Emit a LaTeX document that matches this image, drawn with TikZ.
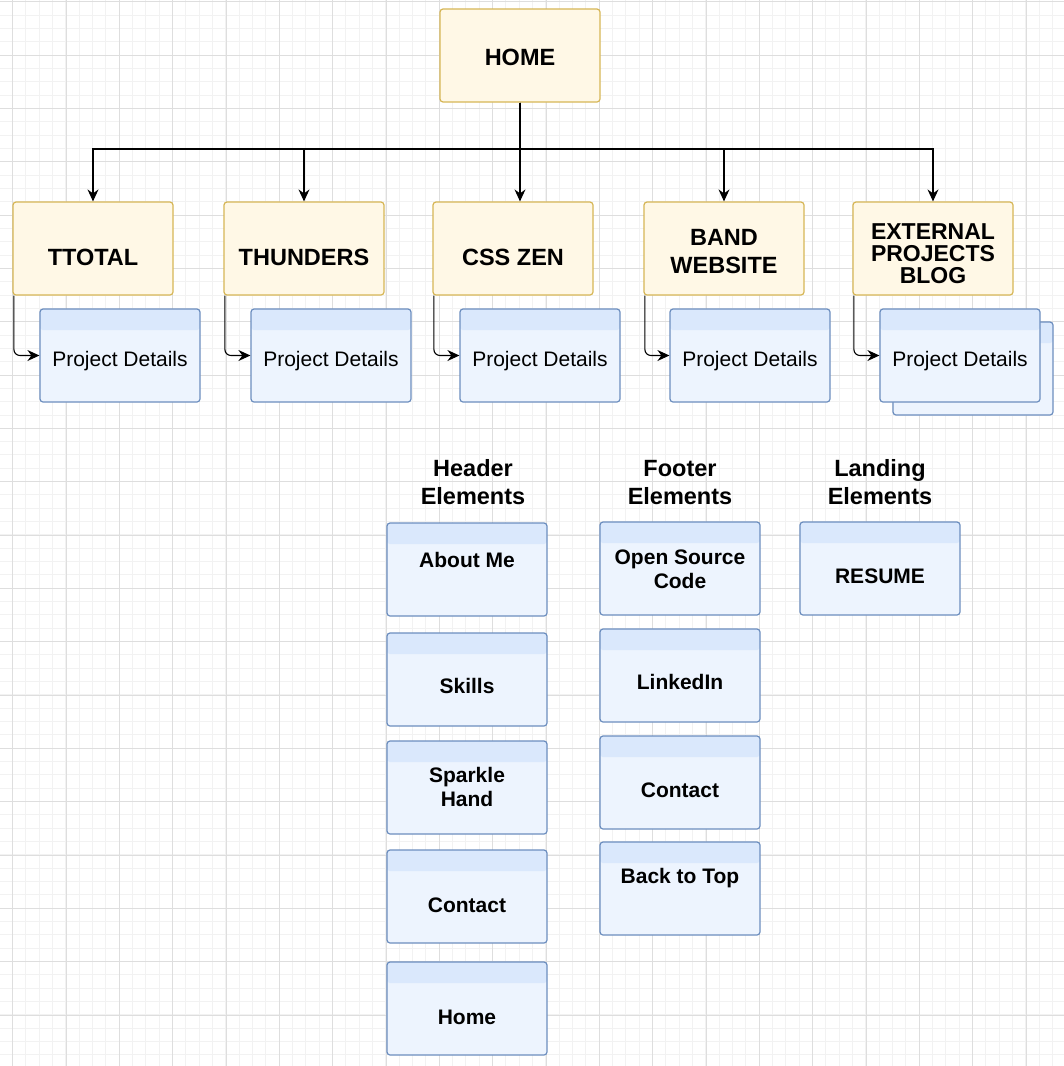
\documentclass[tikz,border=0pt]{standalone}
\usepackage{fontspec}
\setmainfont{Liberation Sans}
\usetikzlibrary{arrows.meta}
\definecolor{ybar}{HTML}{FFF2CC}
\definecolor{ybody}{HTML}{FFF8E6}
\definecolor{ydraw}{HTML}{D6B656}
\definecolor{bbar}{HTML}{DAE8FC}
\definecolor{bbody}{HTML}{EDF4FE}
\definecolor{bdraw}{HTML}{6C8EBF}
\definecolor{gmaj}{HTML}{DEDEDE}
\definecolor{gmin}{HTML}{F2F2F2}
\tikzset{
  lane/.style={rectangle, rounded corners=3pt, minimum width=160pt, minimum height=93pt, inner sep=0pt, line width=1.2pt},
  ylane/.style={lane, draw=ydraw, fill=ybody, path picture={\fill[ybar] (path picture bounding box.north west) rectangle ([yshift=-21pt]path picture bounding box.north east);}},
  blane/.style={lane, draw=bdraw, fill=bbody, path picture={\fill[bbar] (path picture bounding box.north west) rectangle ([yshift=-21pt]path picture bounding box.north east);}},
  bigtxt/.style={font=\fontsize{23.5}{28}\selectfont\bfseries, align=center, inner sep=0pt},
  tighttxt/.style={font=\fontsize{23}{21.7}\selectfont\bfseries, align=center, inner sep=0pt},
  subtxt/.style={font=\fontsize{21}{24}\selectfont\bfseries, align=center, inner sep=0pt},
  pdtxt/.style={font=\fontsize{21}{24}\selectfont, align=center, inner sep=0pt},
  arr/.style={draw=black, line width=1.3pt, -{Stealth[length=12pt, width=11pt, inset=4pt]}},
  sarr/.style={draw=black, line width=1.1pt, rounded corners=6pt, -{Stealth[length=12pt, width=11pt, inset=4pt]}},
}
\begin{document}
\begin{tikzpicture}[x=1pt, y=-1pt]
\useasboundingbox (0,0) rectangle (1064,1066);
\fill[white] (0,0) rectangle (1064,1066);
% grid
\foreach \i in {0,...,80} {
  \draw[gmin, line width=1pt] ({-0.67+13.333*\i},0) -- ++(0,1066);
  \draw[gmin, line width=1pt] (0,{1.67+13.333*\i}) -- ++(1064,0);
}
\foreach \i in {0,...,20} {
  \draw[gmaj, line width=1pt] ({12.67+53.333*\i},0) -- ++(0,1066);
  \draw[gmaj, line width=1pt] (0,{1.67+53.333*\i}) -- ++(1064,0);
}
% top
\node[ylane] (home) at (520,55.5) {};
\node[bigtxt] (thome) at (520,57) {HOME};
\node[ylane] (ttotal) at (93,248.5) {};
\node[ylane] (thunders) at (304,248.5) {};
\node[ylane] (csszen) at (513,248.5) {};
\node[ylane] (band) at (724,248.5) {};
\node[ylane] (ext) at (933,248.5) {};
\node[bigtxt] (tttotal) at (93,257.3) {TTOTAL};
\node[bigtxt] (tthunders) at (304,257.3) {THUNDERS};
\node[bigtxt] (tcsszen) at (513,257.3) {CSS ZEN};
\node[bigtxt] (tband) at (724,252) {BAND\\WEBSITE};
\node[tighttxt] (text) at (933,253.8) {EXTERNAL\\PROJECTS\\BLOG};
% project details
\node[blane] (pd1) at (120,355.5) {};
\node[blane] (pd2) at (331,355.5) {};
\node[blane] (pd3) at (540,355.5) {};
\node[blane] (pd4) at (750,355.5) {};
\node[blane] (pd5b) at (973,368.5) {};
\node[blane] (pd5) at (960,355.5) {};
\foreach \n/\x in {1/120,2/331,3/540,4/750,5/960} {
  \node[pdtxt] (tpd\n) at (\x,361.5) {Project Details};
}
% connectors
\coordinate (bus) at (520,149);
\draw[arr] (home.south) -- (bus) -| (ttotal.north);
\draw[arr] (home.south) -- (bus) -| (thunders.north);
\draw[arr] (home.south) -- (home.south |- csszen.north);
\draw[arr] (home.south) -- (bus) -| (band.north);
\draw[arr] (home.south) -- (bus) -| (ext.north);
\draw[sarr] ([xshift=1.5pt]ttotal.south west) |- (pd1.west);
\draw[sarr] ([xshift=1.5pt]thunders.south west) |- (pd2.west);
\draw[sarr] ([xshift=1.5pt]csszen.south west) |- (pd3.west);
\draw[sarr] ([xshift=1.5pt]band.south west) |- (pd4.west);
\draw[sarr] ([xshift=1.5pt]ext.south west) |- (pd5.west);
% headings
\node[bigtxt] (hhead) at (473,481.7) {Header\\Elements};
\node[bigtxt] (hfoot) at (680,482.5) {Footer\\Elements};
\node[bigtxt] (hland) at (880,481.7) {Landing\\Elements};
% header column
\node[blane] (h1) at (467,569.5) {};
\node[blane] (h2) at (467,679.5) {};
\node[blane] (h3) at (467,787.5) {};
\node[blane] (h4) at (467,896.5) {};
\node[blane] (h5) at (467,1008.5) {};
\node[subtxt] (th1) at (467,559.5) {About Me};
\node[subtxt] (th2) at (467,686) {Skills};
\node[subtxt] (th3) at (467,786.5) {Sparkle\\Hand};
\node[subtxt] (th4) at (467,905) {Contact};
\node[subtxt] (th5) at (467,1017) {Home};
% footer column
\node[blane] (f1) at (680,568.5) {};
\node[blane] (f2) at (680,675.5) {};
\node[blane] (f3) at (680,782.5) {};
\node[blane] (f4) at (680,888.5) {};
\node[subtxt] (tf1) at (680,568.8) {Open Source\\Code};
\node[subtxt] (tf2) at (680,682) {LinkedIn};
\node[subtxt] (tf3) at (680,790.3) {Contact};
\node[subtxt] (tf4) at (680,878) {Back to Top};
% landing
\node[blane] (l1) at (880,568.5) {};
\node[subtxt] (tl1) at (880,576) {RESUME};
\end{tikzpicture}
\end{document}
